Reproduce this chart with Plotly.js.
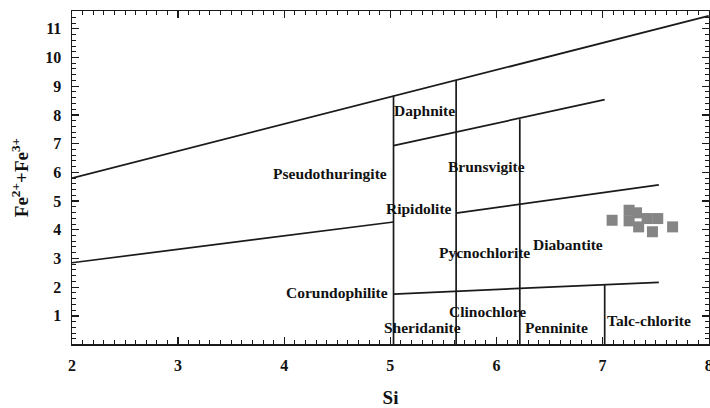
<!DOCTYPE html>
<html>
<head>
<meta charset="utf-8">
<script src="https://cdn.plot.ly/plotly-3.0.1.min.js"></script>
<style>html,body{margin:0;padding:0;background:#fff;}#chart{width:710px;height:408px;}</style>
</head>
<body>
<div id="chart"></div>
<script>
// Boundary lines of the chlorite classification diagram (Si vs Fe2+ + Fe3+)
const topLineX = [2, 8];
const topLineY = [5.8, 11.45];
const upperMidX = [5.03, 7.02];
const upperMidY = [6.93, 8.53];
const midLeftX = [2, 5.03];
const midLeftY = [2.85, 4.27];
const midRightX = [5.62, 7.53];
const midRightY = [4.58, 5.56];
const lowerX = [5.03, 7.53];
const lowerY = [1.76, 2.17];
const vert1X = [5.03, 5.03];   const vert1Y = [0, 8.67];
const vert2X = [5.62, 5.62];   const vert2Y = [0, 9.22];
const vert3X = [6.22, 6.22];   const vert3Y = [0, 7.85];
const vert4X = [7.02, 7.02];   const vert4Y = [0, 2.09];

// Sample points
const sampleSi = [7.09, 7.25, 7.32, 7.25, 7.42, 7.52, 7.34, 7.47, 7.66];
const sampleFe = [4.33, 4.68, 4.59, 4.31, 4.39, 4.39, 4.10, 3.93, 4.10];

// Field names
const fieldNames = ["Pseudothuringite","Daphnite","Brunsvigite","Ripidolite","Pycnochlorite","Diabantite","Corundophilite","Clinochlore","Sheridanite","Penninite","Talc-chlorite"];
const fieldX = [4.43, 5.32, 5.91, 5.27, 5.885, 6.67, 4.50, 5.92, 5.30, 6.57, 7.44];
const fieldY = [5.96, 8.15, 6.19, 4.74, 3.20, 3.49, 1.81, 1.16, 0.61, 0.61, 0.85];

// Axis ranges
const xRange = [2, 8.003];
const yRange = [0.02, 11.62];

const lineStyle = {color:'#1a1a1a', width:1.7};
const segs = [[topLineX,topLineY],[upperMidX,upperMidY],[midLeftX,midLeftY],[midRightX,midRightY],[lowerX,lowerY],
  [vert1X,vert1Y],[vert2X,vert2Y],[vert3X,vert3Y],[vert4X,vert4Y]];
const traces = segs.map(s => ({x:s[0], y:s[1], mode:'lines', type:'scatter', line:lineStyle, hoverinfo:'skip', showlegend:false}));
traces.push({x:sampleSi, y:sampleFe, mode:'markers', type:'scatter', showlegend:false,
  marker:{symbol:'square', size:11, color:'#858585', line:{width:0}}});

const serif = 'Liberation Serif, Times New Roman, serif';
const annotations = fieldNames.map((t,i)=>({x:fieldX[i], y:fieldY[i], text:t, showarrow:false, xref:'x', yref:'y',
  font:{family:serif, size:15.5, color:'#111', weight:'bold'}}));

const axisCommon = {
  showline:true, linecolor:'#1a1a1a', linewidth:1.5, mirror:'allticks',
  ticks:'inside', ticklen:7, tickwidth:1.3, tickcolor:'#1a1a1a',
  showgrid:false, zeroline:false, ticklabeloverflow:'allow',
  tickfont:{family:serif, size:16, color:'#111', weight:'bold'}
};

const layout = {
  width:710, height:408,
  margin:{l:72, r:1, t:11, b:64},
  paper_bgcolor:'#fff', plot_bgcolor:'#fff',
  xaxis: Object.assign({}, axisCommon, {
    range:xRange, tickmode:'linear', tick0:0, dtick:1, ticklabelstandoff:6,
    minor:{tickmode:'linear', tick0:0, dtick:0.1, ticks:'inside', ticklen:4, tickwidth:1, tickcolor:'#1a1a1a', showgrid:false},
    title:{text:'Si', standoff:19, font:{family:serif, size:19, color:'#111', weight:'bold'}}
  }),
  yaxis: Object.assign({}, axisCommon, {
    range:yRange, tickmode:'linear', tick0:0, dtick:1, ticklabelstandoff:6,
    minor:{tickmode:'linear', tick0:0, dtick:0.2, ticks:'inside', ticklen:4, tickwidth:1, tickcolor:'#1a1a1a', showgrid:false},
    title:{text:'Fe<sup>2+</sup>+Fe<sup>3+</sup>', standoff:11, font:{family:serif, size:19, color:'#111', weight:'bold'}}
  }),
  annotations: annotations
};

Plotly.newPlot('chart', traces, layout, {displayModeBar:false, staticPlot:true});
</script>
</body>
</html>
